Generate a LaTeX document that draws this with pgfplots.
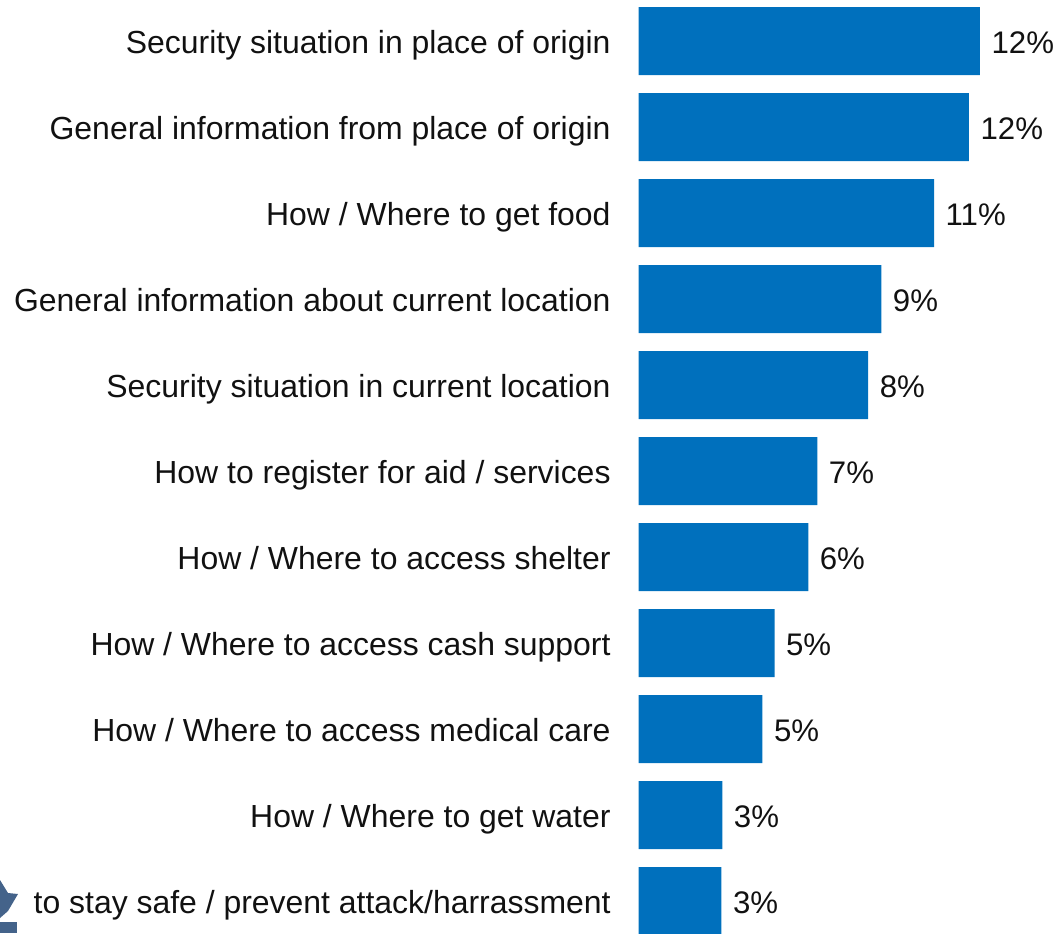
\documentclass[border=0pt]{standalone}
\usepackage{pgfplots}
\pgfplotsset{compat=1.18}
\usepackage{pgfplotstable}
\usepackage{fontspec}
\setmainfont{Liberation Sans}
\definecolor{barblue}{HTML}{0070BD}
\definecolor{logoblue}{HTML}{44638A}
\definecolor{labelink}{HTML}{111111}

% Share of respondents per information need, with the rounded label shown
\pgfplotstableread{
row value label
0 12.43 12\%
1 12.03 12\%
2 10.76 11\%
3 8.84 9\%
4 8.36 8\%
5 6.51 7\%
6 6.18 6\%
7 4.95 5\%
8 4.51 5\%
9 3.05 3\%
10 3.02 3\%
}\infoneeds

\begin{document}
\begin{tikzpicture}
\useasboundingbox (0pt,0pt) rectangle (793.5pt,699.75pt);
% corner of the organisation's logo, cut by the page edge
\begin{scope}[x=0.75pt,y=0.75pt]
\clip (0,0) rectangle (1058,933);
\fill[logoblue] (0,53) -- (8,40) -- (18,39) -- (8,22) -- (0,15) -- cycle;
\fill[logoblue] (0,11) -- (17,11) -- (17,0) -- (0,0) -- cycle;
\end{scope}
\begin{axis}[
  at={(478.9pt,0pt)}, anchor=south west,
  width=314.6pt, height=699.75pt, scale only axis,
  xbar, bar width=51pt, bar shift=0pt,
  xmin=0, xmax=15.27,
  ymin=-0.4767, ymax=10.372, y dir=reverse,
  axis line style={draw=none},
  xtick=\empty,
  ytick={0,...,10},
  yticklabels={Security situation in place of origin,
    General information from place of origin,
    How / Where to get food,
    General information about current location,
    Security situation in current location,
    How to register for aid / services,
    How / Where to access shelter,
    How / Where to access cash support,
    How / Where to access medical care,
    How / Where to get water,
    to stay safe / prevent attack/harrassment},
  major tick length=0pt,
  yticklabel style={font=\fontsize{23.95}{28}\selectfont, text=labelink,
    anchor=base east, inner sep=0pt, xshift=-20.8pt, yshift=-9pt},
  nodes near coords,
  point meta=explicit symbolic,
  every node near coord/.append style={font=\fontsize{23.4}{28}\selectfont,
    text=labelink, anchor=base west, inner sep=0pt, xshift=8.5pt, yshift=-9pt},
]
\addplot[fill=barblue, draw=none] table[x=value, y=row, meta=label] {\infoneeds};
\end{axis}
\end{tikzpicture}
\end{document}
